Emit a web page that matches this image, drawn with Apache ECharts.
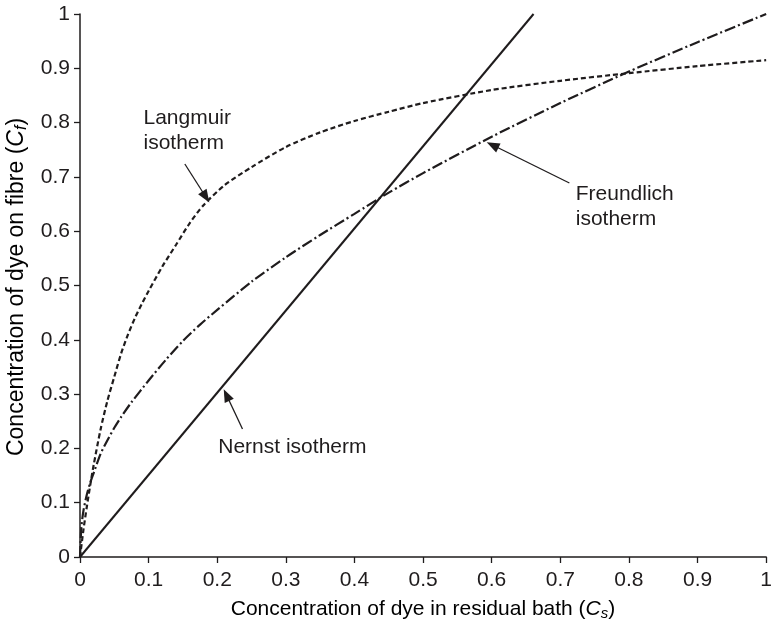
<!DOCTYPE html>
<html>
<head>
<meta charset="utf-8">
<script src="https://cdn.jsdelivr.net/npm/echarts@6/dist/echarts.min.js"></script>
<style>
  html, body { margin: 0; padding: 0; background: #fff; }
  #chart { width: 775px; height: 625px; }
</style>
</head>
<body>
<div id="chart"></div>
<script>
// Dye sorption isotherms: dye on fibre (Cf) against dye left in the bath (Cs)
var xTicks = [0, 0.1, 0.2, 0.3, 0.4, 0.5, 0.6, 0.7, 0.8, 0.9, 1];
var yTicks = [0, 0.1, 0.2, 0.3, 0.4, 0.5, 0.6, 0.7, 0.8, 0.9, 1];

// Nernst isotherm (linear partition)
var nernstCs = [0, 0.661];
var nernstCf = [0, 1.0];

// Langmuir isotherm (saturating)
var langmuirCs = [0, 0.005, 0.01, 0.015, 0.02, 0.03, 0.04, 0.05, 0.06, 0.07, 0.08, 0.09, 0.1, 0.12, 0.14, 0.16, 0.18, 0.21, 0.25, 0.3, 0.35, 0.4, 0.45, 0.5, 0.6, 0.7, 0.8, 0.9, 1.0];
var langmuirCf = [0, 0.05, 0.093, 0.133, 0.17, 0.235, 0.288, 0.332, 0.375, 0.41, 0.44, 0.466, 0.49, 0.535, 0.575, 0.615, 0.648, 0.684, 0.718, 0.755, 0.782, 0.803, 0.82, 0.836, 0.86, 0.877, 0.891, 0.904, 0.915];

// Freundlich isotherm
var freundlichCs = [0, 0.002, 0.005, 0.01, 0.015, 0.02, 0.03, 0.04, 0.05, 0.06, 0.075, 0.1, 0.125, 0.15, 0.175, 0.2, 0.25, 0.3, 0.35, 0.4, 0.45, 0.5, 0.6, 0.7, 0.8, 0.9, 1.0];
var freundlichCf = [0, 0.055, 0.085, 0.115, 0.137, 0.155, 0.19, 0.215, 0.238, 0.258, 0.285, 0.325, 0.363, 0.398, 0.428, 0.455, 0.507, 0.552, 0.593, 0.632, 0.671, 0.707, 0.774, 0.836, 0.894, 0.948, 1.0];

// Callout arrows: [tail Cs, tail Cf, head Cs, head Cf]
var langmuirArrow = [0.1528, 0.7238, 0.1834, 0.663];
var freundlichArrow = [0.7132, 0.6888, 0.6012, 0.7587];
var nernstArrow = [0.2368, 0.2357, 0.2135, 0.2983];

// Callout texts, anchored at their top-left corner in data units
var langmuirLabel = { text: 'Langmuir\nisotherm', cs: 0.0925, cf: 0.8315 };
var freundlichLabel = { text: 'Freundlich\nisotherm', cs: 0.7225, cf: 0.6915 };
var nernstLabel = { text: 'Nernst isotherm', cs: 0.2015, cf: 0.2256 };

var INK = '#1f1c1d';
var FONT = '"Liberation Sans", Arial, Helvetica, sans-serif';
var TICK_FS = 21;
var NOTE_FS = 21;
var XT_FS = 21;
var YT_FS = 23;

function pairs(xs, ys) {
  return xs.map(function (x, i) { return [x, ys[i]]; });
}

function arrow(a) {
  return {
    silent: true,
    animation: false,
    symbol: ['none', 'triangle'],
    symbolSize: [10, 13],
    lineStyle: { type: 'solid', width: 1.3, color: INK },
    label: { show: false },
    emphasis: { disabled: true },
    data: [[{ coord: [a[0], a[1]] }, { coord: [a[2], a[3]] }]]
  };
}

function tickFmt(v) {
  return String(+v.toFixed(1));
}

var axisCommon = {
  type: 'value',
  min: 0,
  max: 1,
  interval: 0.1,
  axisLine: { show: true, lineStyle: { color: INK, width: 1.5 } },
  axisTick: { show: true, inside: false, length: 6, lineStyle: { color: INK, width: 1.3 } },
  splitLine: { show: false },
  axisLabel: { color: INK, fontSize: TICK_FS, fontFamily: FONT, formatter: tickFmt }
};

var chart = echarts.init(document.getElementById('chart'), null, { renderer: 'canvas' });

chart.setOption({
  animation: false,
  backgroundColor: '#ffffff',
  grid: { left: 80, right: 8, top: 14, bottom: 68, containLabel: false },
  xAxis: Object.assign({}, axisCommon, {
    axisLabel: Object.assign({}, axisCommon.axisLabel, { margin: 13 })
  }),
  yAxis: Object.assign({}, axisCommon, {
    axisLabel: Object.assign({}, axisCommon.axisLabel, { margin: 10 })
  }),
  series: [
    {
      name: 'Nernst isotherm',
      type: 'line',
      data: pairs(nernstCs, nernstCf),
      showSymbol: false,
      lineStyle: { color: INK, width: 2, type: 'solid' },
      markLine: arrow(nernstArrow)
    },
    {
      name: 'Langmuir isotherm',
      type: 'line',
      data: pairs(langmuirCs, langmuirCf),
      showSymbol: false,
      smooth: 0.25,
      lineStyle: { color: INK, width: 2.2, type: [5, 3] },
      markLine: arrow(langmuirArrow)
    },
    {
      name: 'Freundlich isotherm',
      type: 'line',
      data: pairs(freundlichCs, freundlichCf),
      showSymbol: false,
      smooth: 0.25,
      lineStyle: { color: INK, width: 2.2, type: [11, 3, 2, 3] },
      markLine: arrow(freundlichArrow)
    }
  ]
});

// Axis titles and callout texts
function titleRich(fs) {
  return {
    a: { fontSize: fs, fontFamily: FONT, color: INK },
    i: { fontSize: fs, fontFamily: FONT, color: INK, fontStyle: 'italic' },
    s: { fontSize: Math.round(fs * 0.7), fontFamily: FONT, color: INK, fontStyle: 'italic', padding: [Math.round(fs * 0.45), 0, 0, 0] }
  };
}

function calloutText(lbl) {
  var p = chart.convertToPixel({ gridIndex: 0 }, [lbl.cs, lbl.cf]);
  return {
    type: 'text',
    x: p[0],
    y: p[1],
    silent: true,
    style: {
      text: lbl.text,
      fill: INK,
      font: NOTE_FS + 'px ' + FONT,
      lineHeight: 25,
      align: 'left',
      verticalAlign: 'top'
    }
  };
}

chart.setOption({
  graphic: [
    {
      type: 'text',
      x: 423,
      y: 609,
      silent: true,
      style: {
        text: '{a|Concentration of dye in residual bath (}{i|C}{s|s}{a|)}',
        rich: titleRich(XT_FS),
        align: 'center',
        verticalAlign: 'middle'
      }
    },
    {
      type: 'text',
      x: 17,
      y: 287,
      rotation: Math.PI / 2,
      silent: true,
      style: {
        text: '{a|Concentration of dye on fibre (}{i|C}{s|f}{a|)}',
        rich: titleRich(YT_FS),
        align: 'center',
        verticalAlign: 'middle'
      }
    },
    calloutText(langmuirLabel),
    calloutText(freundlichLabel),
    calloutText(nernstLabel)
  ]
});
</script>
</body>
</html>
